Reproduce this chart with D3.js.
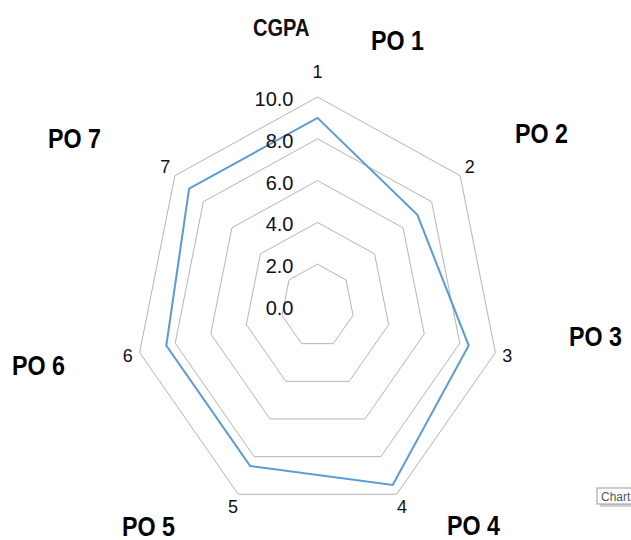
<!DOCTYPE html>
<html>
<head>
<meta charset="utf-8">
<script src="https://cdn.jsdelivr.net/npm/d3@7"></script>
<style>
  html, body { margin: 0; padding: 0; background: #fff; }
  svg { display: block; }
</style>
</head>
<body>
<svg id="chart"></svg>
<script>
// chart data
const categories = ['1', '2', '3', '4', '5', '6', '7'];
const cgpa = [9.0, 7.0, 8.5, 9.5, 8.5, 8.5, 9.0];
const gridTicks = [0, 2, 4, 6, 8, 10];
const poLabels = ['PO 1', 'PO 2', 'PO 3', 'PO 4', 'PO 5', 'PO 6', 'PO 7'];
const chartTitle = 'CGPA';

const width = 631;
const height = 540;
const cx = 317.5, cy = 306;
const squeeze = 0.873; // picture is a bit narrower than tall

// where the PO text boxes sit (left x, baseline y)
const poPos = [[371, 50], [515, 143], [569, 346], [447, 535], [122, 536], [12, 375], [48, 148]];

const svg = d3.select('#chart')
  .attr('width', width)
  .attr('height', height)
  .style('font-family', '"Liberation Sans", Arial, sans-serif');

const r = d3.scaleLinear().domain([0, 10]).range([0, 209]);
const angle = d3.scaleLinear().domain([0, categories.length]).range([0, 2 * Math.PI]);

const px = (i, v) => cx + squeeze * r(v) * Math.sin(angle(i));
const py = (i, v) => cy - r(v) * Math.cos(angle(i));

const poly = d3.line().x(d => d[0]).y(d => d[1]).curve(d3.curveLinearClosed);

// grid rings
svg.append('g')
  .selectAll('path')
  .data(gridTicks.filter(t => t > 0))
  .join('path')
  .attr('d', t => poly(categories.map((c, i) => [px(i, t), py(i, t)])))
  .attr('fill', 'none')
  .attr('stroke', '#b4b4b4')
  .attr('stroke-width', 1);

// series
svg.append('path')
  .attr('d', poly(cgpa.map((v, i) => [px(i, v), py(i, v)])))
  .attr('fill', 'none')
  .attr('stroke', '#5b9bd5')
  .attr('stroke-width', 2)
  .attr('stroke-linejoin', 'miter');

// value axis labels
svg.append('g')
  .selectAll('text')
  .data(gridTicks)
  .join('text')
  .attr('x', cx - 24)
  .attr('y', t => cy - r(t) + 2)
  .attr('dy', '0.35em')
  .attr('text-anchor', 'end')
  .attr('font-size', 20)
  .attr('fill', '#111')
  .text(d3.format('.1f'));

// category labels
svg.append('g')
  .selectAll('text')
  .data(categories)
  .join('text')
  .attr('x', (c, i) => cx + squeeze * 223 * Math.sin(angle(i)))
  .attr('y', (c, i) => cy - (i === 0 ? 234 : 223) * Math.cos(angle(i)))
  .attr('dy', '0.35em')
  .attr('text-anchor', 'middle')
  .attr('font-size', 18)
  .attr('fill', '#111')
  .text(c => c);

// title and PO boxes
svg.append('text')
  .attr('transform', `translate(253,36) scale(${squeeze},1)`)
  .attr('font-size', 23)
  .attr('font-weight', 'bold')
  .attr('fill', '#111')
  .text(chartTitle);

svg.append('g')
  .selectAll('text')
  .data(poLabels)
  .join('text')
  .attr('transform', (d, i) => `translate(${poPos[i][0]},${poPos[i][1]}) scale(0.83,1)`)
  .attr('font-size', 28)
  .attr('font-weight', 'bold')
  .attr('fill', '#000')
  .text(d => d);

// little "Chart" hover box at the edge
const tip = svg.append('g').attr('transform', 'translate(597,488)');
tip.append('rect').attr('x', 3).attr('y', 3).attr('width', 40).attr('height', 16).attr('fill', '#d0d0d0');
tip.append('rect').attr('width', 40).attr('height', 16).attr('fill', '#fff').attr('stroke', '#999');
tip.append('text').attr('x', 4).attr('y', 12.5).attr('font-size', 12).attr('fill', '#555').text('Chart');
</script>
</body>
</html>
